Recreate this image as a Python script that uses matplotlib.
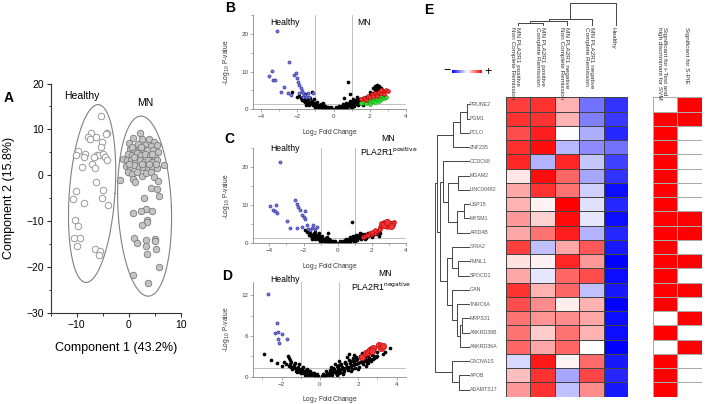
import numpy as np
import matplotlib
matplotlib.use('Agg')
import matplotlib.pyplot as plt
from matplotlib.ticker import MultipleLocator
from matplotlib.colors import ListedColormap, Normalize
from matplotlib.cm import ScalarMappable

plt.rcParams['font.family'] = ['Liberation Sans', 'DejaVu Sans']

# ---------------- Panel A data (PCA) ----------------
healthy_x = [-5.3, -7.2, -7.9, -7.5, -6.3, -5.2, -4.1, -4.3, -9.7, -10.1, -8.5, -8.7, -6.1, -5.8,
             -5.4, -4.9, -4.6, -4.2, -6.6, -7.1, -6.5, -9.0, -6.3, -10.2, -10.8, -5.0, -5.2, -8.7,
             -4.0, -10.3, -9.8, -10.5, -9.4, -10.0, -6.5, -5.6, -5.7]
healthy_y = [12.9, 9.3, 8.4, 8.0, 8.4, 7.3, 9.1, 8.9, 5.2, 4.4, 4.7, 3.9, 4.4, 4.5,
             6.2, 4.7, 4.0, 3.4, 3.9, 2.5, 1.6, 1.8, -1.5, -3.4, -5.2, -3.3, -4.9, -6.0,
             -6.4, -9.7, -11.1, -13.6, -13.6, -15.4, -16.0, -16.6, -17.5]
mn_x = [2.1, 0.8, 2.6, 3.9, 4.8, 5.5, 0.0, 1.7, 3.1, 4.2, 0.2, 1.0, 1.9, 2.8, 3.5, 4.7, 5.6,
        -0.2, 0.6, 1.5, 2.3, 3.2, 4.1, 5.0, -1.1, -0.3, 0.5, 1.3, 2.1, 2.9, 3.7, 4.5, 5.5, 6.8,
        -0.5, 0.3, 1.1, 1.9, 2.8, 3.7, 4.5, 5.4, -0.1, 0.6, 1.6, 2.6, 3.4, 4.2, 4.8, -1.6, 0.8,
        1.2, 5.6, 4.2, 5.5, 5.8, 3.0, 3.4, 2.3, 0.8, 4.5, 3.5, 3.5, 2.6, 1.1, 1.5, 3.4, 3.4,
        5.0, 5.0, 5.2, 3.5, 5.9, 0.8, 3.7, 0.6, 2.3, 4.5, 3.9, 5.2, 1.0, 2.6, 0.0]
mn_y = [9.3, 8.1, 7.8, 8.0, 7.3, 6.5, 7.1, 6.8, 6.5, 6.3, 5.8, 5.5, 5.6, 5.8, 5.5, 5.5, 5.1,
        4.7, 4.5, 4.9, 4.4, 4.6, 4.1, 4.0, 3.6, 3.3, 3.4, 3.1, 3.3, 2.8, 3.3, 2.9, 3.3, 2.3,
        2.0, 1.7, 2.2, 1.5, 1.8, 1.3, 1.8, 1.5, 0.7, 0.2, 0.7, -0.2, 0.4, 0.7, -0.4, -1.1, -0.9,
        -1.5, -1.2, -2.9, -3.1, -4.5, -4.9, -7.4, -7.9, -8.2, -7.9, -9.7, -10.3, -10.9, -13.8,
        -14.9, -14.2, -15.4, -14.0, -14.4, -16.1, -17.1, -20.0, -21.7, -23.6, 6.2, 6.2, 4.7,
        2.5, 2.5, 4.0, 2.4, 2.5]
# ellipse parameters: centre x, centre y, half-width, half-height, shear
healthy_ell = (-7.05, -4.0, 4.4, 19.4, 1.15)
mn_ell = (3.05, -6.75, 5.15, 19.65, -0.7)
labelA = ['Healthy', 'MN']

# ---------------- Panel B data ----------------
B_black_x = [-0.1, -0.2, -0.3, -0.4, -0.5, -0.6, -0.7, -0.8, -0.9, -1.0, -1.0, -1.1, -1.2, -1.2, -1.3,
             -1.4, -1.4, -1.5, -1.6, -1.7, -1.8, -1.9, -1.3, -1.1, -0.9, -0.7, -0.5, -0.3, -2.0, -1.6,
             -1.2, -2.3, -0.6, -0.8, -1.0, -1.5, -0.4,
             -0.15, -0.25, -0.35, -0.45, -0.55, -0.65, -0.75, -0.85, -0.95, -1.05, -1.15, -1.25,
             -1.35, -1.45, -1.55, -1.65, -1.75,
             0.1, 0.2, 0.3, 0.4, 0.5, 0.6, 0.7, 0.8, 0.9, 1.0, 1.0, 1.1, 1.2, 1.2, 1.3, 1.4, 1.4,
             1.5, 1.6, 1.7, 1.8, 1.9, 2.0, 2.1, 2.2, 2.3, 2.4, 2.5, 2.4, 2.5, 2.6, 2.3, 2.2, 0.8,
             0.5, 0.3, 0.7, 0.9, 1.1, 1.3, 0.6, 0.9, 2.7, 2.0, 0.6, 1.0, 1.6, 2.35, 2.45,
             0.15, 0.25, 0.35, 0.45, 0.55, 0.65, 0.75, 0.85, 0.95, 1.05, 1.15, 1.25, 1.35, 1.45,
             1.55, 1.65, 1.75, 1.85, 1.95, 2.05, 2.15, 2.25, 2.35, 2.45, 2.55, 2.5, 2.4, 2.3]
B_black_y = [0.1, 0.3, 0.2, 0.6, 0.4, 0.9, 0.6, 1.2, 0.8, 1.5, 1.0, 1.8, 1.3, 2.2, 1.6,
             2.0, 2.6, 2.3, 2.8, 3.3, 2.9, 3.6, 3.1, 2.6, 1.9, 1.4, 1.0, 0.6, 3.2, 4.1,
             4.6, 4.5, 1.6, 0.6, 0.5, 1.2, 0.2,
             0.5, 0.1, 0.4, 0.8, 0.2, 0.4, 1.0, 0.5, 1.3, 0.7, 1.1, 1.9,
             1.2, 1.6, 1.9, 2.3, 2.5,
             0.1, 0.3, 0.2, 0.6, 0.4, 0.9, 0.6, 1.2, 0.8, 1.5, 1.0, 1.8, 1.3, 2.2, 1.6, 2.0, 2.7,
             2.3, 3.0, 2.6, 3.3, 2.9, 3.7, 3.2, 4.2, 3.8, 4.8, 5.3, 5.8, 6.3, 5.6, 5.2, 5.6, 7.3,
             1.3, 0.8, 1.8, 2.3, 2.8, 3.3, 3.0, 4.0, 4.9, 4.6, 0.4, 0.6, 1.1, 6.0, 5.0,
             0.5, 0.1, 0.4, 0.9, 0.2, 1.2, 0.4, 1.6, 0.5, 2.1, 0.9, 2.5, 1.1, 1.6,
             1.9, 1.4, 2.1, 2.5, 3.3, 2.6, 3.5, 3.0, 4.3, 3.6, 4.8, 5.8, 6.5, 6.1]
B_blue_x = [-3.13, -3.39, -3.54, -3.35, -3.23, -2.47, -2.06, -2.16, -2.03, -1.94, -1.88, -2.71, -2.89,
            -2.52, -2.34, -1.79, -1.73, -1.66, -1.55, -1.42, -1.33, -1.51, -1.14, -1.70, -1.88]
B_blue_y = [20.8, 10.2, 8.8, 7.8, 7.8, 12.6, 9.7, 9.1, 8.2, 7.3, 6.4, 5.8, 4.7,
            4.4, 3.8, 5.6, 4.9, 4.2, 3.8, 4.4, 3.3, 3.2, 4.4, 3.3, 4.2]
B_green_x = [1.6, 1.7, 1.8, 1.9, 2.0, 2.1, 2.2, 2.3, 2.4, 2.5, 2.6, 2.7, 2.8, 2.0, 2.3, 2.5, 1.8,
             2.2, 2.6, 1.5, 2.9]
B_green_y = [1.8, 2.2, 1.6, 2.5, 2.0, 2.8, 2.3, 3.0, 2.6, 3.2, 2.8, 3.5, 3.1, 1.5, 1.9, 2.2, 2.8,
             3.3, 3.9, 1.6, 3.3]
B_red_x = [1.7, 1.9, 2.0, 2.1, 2.2, 2.3, 2.4, 2.5, 2.6, 2.7, 2.8, 2.9, 3.0, 2.6, 2.4, 2.8, 1.8, 1.5]
B_red_y = [3.0, 3.5, 3.2, 4.0, 3.6, 4.4, 4.0, 4.6, 4.2, 5.0, 4.6, 5.2, 4.9, 5.2, 3.5, 4.0, 2.4, 2.6]

# ---------------- Panel C data ----------------
C_black_x = [-0.1, -0.2, -0.3, -0.4, -0.5, -0.6, -0.7, -0.8, -0.9, -1.0, -1.0, -1.1, -1.2, -1.2, -1.3,
             -1.4, -1.4, -1.5, -1.6, -1.7, -1.8, -1.3, -1.1, -0.9, -0.7, -0.5, -0.3, -0.58, -1.9,
             -0.6, -0.8, -1.0, -1.5, -0.4,
             -0.15, -0.25, -0.35, -0.45, -0.55, -0.65, -0.75, -0.85, -0.95, -1.05, -1.15, -1.25,
             -1.35, -1.45, -1.55, -1.65,
             0.1, 0.2, 0.3, 0.4, 0.5, 0.6, 0.7, 0.8, 0.9, 1.0, 1.0, 1.1, 1.2, 1.2, 1.3, 1.4, 1.4,
             1.5, 1.6, 1.7, 1.8, 1.9, 2.0, 2.1, 2.2, 2.3, 2.4, 0.82, 0.5, 0.3, 0.7, 0.9, 1.1, 1.3,
             0.6, 1.0, 1.6, 2.0, 2.4,
             0.15, 0.25, 0.35, 0.45, 0.55, 0.65, 0.75, 0.85, 0.95, 1.05, 1.15, 1.25, 1.35, 1.45,
             1.55, 1.65, 1.75, 1.85, 1.95, 2.05, 2.15, 2.25, 2.35, 2.5]
C_black_y = [0.1, 0.3, 0.2, 0.6, 0.4, 0.9, 0.6, 1.2, 0.8, 1.5, 1.0, 1.8, 1.3, 2.2, 1.6,
             2.0, 2.6, 2.3, 2.8, 3.3, 2.9, 3.1, 2.6, 1.9, 1.4, 1.0, 0.6, 2.6, 3.5,
             1.6, 0.6, 0.5, 1.2, 0.2,
             0.5, 0.1, 0.4, 0.8, 0.2, 0.4, 1.0, 0.5, 1.3, 0.7, 1.1, 1.9,
             1.2, 1.6, 1.9, 2.3,
             0.1, 0.3, 0.2, 0.6, 0.4, 0.9, 0.6, 1.2, 0.8, 1.5, 1.0, 1.8, 1.3, 2.0, 1.6, 2.0, 2.4,
             2.1, 2.4, 2.2, 2.6, 2.4, 2.8, 2.6, 3.0, 2.9, 3.2, 5.5, 1.2, 0.7, 1.6, 1.9, 2.3, 2.6,
             0.4, 0.5, 1.2, 1.6, 2.0,
             0.5, 0.1, 0.4, 0.9, 0.2, 1.2, 0.4, 1.5, 0.5, 1.9, 0.8, 2.2, 1.0, 1.5,
             1.7, 1.3, 1.9, 2.1, 2.7, 2.2, 2.8, 2.5, 3.0, 2.7]
C_blue_x = [-3.38, -3.96, -3.61, -3.77, -3.67, -3.53, -2.99, -2.79, -2.50, -2.40, -2.34, -2.20, -2.11,
            -1.97, -1.89, -2.36, -2.11, -1.81, -1.72, -1.52, -1.42, -1.33, -1.62, -1.23, -1.91]
C_blue_y = [21.5, 9.7, 10.1, 8.8, 8.4, 7.9, 6.0, 4.1, 11.5, 10.4, 9.5, 8.8, 7.5,
            6.9, 6.3, 4.0, 4.2, 4.8, 3.7, 4.0, 4.8, 3.8, 3.5, 4.2, 8.4]
C_red_x = [1.5, 1.6, 1.7, 1.8, 1.9, 2.0, 2.1, 2.2, 2.3, 2.4, 2.5, 2.6, 2.6, 2.7, 2.8, 2.9, 3.0,
           3.1, 3.2, 3.3, 2.5, 2.2, 2.0, 2.7, 3.0]
C_red_y = [1.7, 2.0, 2.3, 2.1, 2.6, 2.4, 3.0, 2.8, 3.3, 3.6, 4.2, 4.8, 5.3, 4.6, 5.0, 4.3, 4.7,
           5.0, 5.3, 5.6, 3.7, 3.4, 2.9, 5.6, 5.4]
C_redbig_x = [2.6, 2.7, 3.2, 3.1, 2.9]
C_redbig_y = [5.0, 4.7, 5.1, 4.6, 5.5]

# ---------------- Panel D data ----------------
D_black_x = [-0.1, -0.2, -0.3, -0.4, -0.5, -0.6, -0.7, -0.8, -0.9, -1.0, -1.0, -1.1, -1.2, -1.3,
             -1.4, -1.5, -1.6, -0.3, -0.5, -0.7, -0.9, -1.1, -1.3, -1.5, -2.9, -2.56, -2.22, -1.9,
             -1.65, -1.6, -1.55, -1.75, -2.0, -1.2, -0.8,
             -0.15, -0.25, -0.35, -0.45, -0.55, -0.65, -0.75, -0.85, -0.95, -1.05, -1.15, -1.25,
             -1.35, -1.45, -1.55,
             0.1, 0.2, 0.3, 0.4, 0.5, 0.6, 0.7, 0.8, 0.9, 1.0, 1.0, 1.1, 1.2, 1.3, 1.4, 1.5, 1.6,
             1.7, 1.8, 1.9, 2.0, 2.1, 2.2, 2.3, 2.4, 2.5, 2.6, 2.8, 3.0, 3.3, 3.65, 0.5, 0.7,
             0.9, 1.1, 1.3, 1.5, 1.7, 1.9, 2.1, 2.3, 2.5, 2.7, 1.2, 1.6, 2.0, 2.4, 0.8, 1.0,
             1.4, 1.8, 2.2, 2.6, 3.0, 3.4, 1.5, 0.3,
             0.15, 0.25, 0.35, 0.45, 0.55, 0.65, 0.75, 0.85, 0.95, 1.05, 1.15, 1.25, 1.35, 1.45,
             1.55, 1.65, 1.75, 1.85, 1.95, 2.05, 2.15, 2.25, 2.35, 2.45, 2.55, 2.65, 2.75, 2.9,
             1.0, 1.3, 1.6, 1.9, 2.2, 2.5, 2.8, 0.6, 0.9, 1.2]
D_black_y = [0.1, 0.2, 0.3, 0.4, 0.5, 0.6, 0.7, 0.8, 0.9, 1.0, 0.5, 1.1, 1.2, 1.3,
             1.4, 1.5, 1.6, 0.6, 0.9, 1.2, 1.5, 1.8, 2.0, 2.2, 3.3, 2.4, 2.0, 2.2,
             3.1, 2.8, 2.4, 1.9, 1.6, 0.7, 0.3,
             0.4, 0.1, 0.5, 0.2, 0.8, 0.3, 1.0, 0.5, 1.2, 0.7, 1.4, 0.9,
             1.7, 1.1, 1.9,
             0.1, 0.2, 0.3, 0.4, 0.5, 0.6, 0.7, 0.8, 0.9, 1.0, 0.5, 1.1, 1.2, 1.3, 1.4, 1.5, 1.6,
             1.7, 1.8, 1.9, 2.0, 2.1, 2.2, 2.3, 2.4, 2.5, 2.6, 2.8, 3.0, 3.3, 4.3, 1.0, 1.3,
             1.6, 1.9, 2.2, 2.5, 2.7, 2.9, 3.1, 3.3, 3.1, 3.2, 0.6, 0.9, 1.2, 1.6, 1.8, 2.3,
             2.9, 3.2, 3.5, 3.6, 3.7, 3.6, 3.4, 0.9,
             0.4, 0.1, 0.6, 0.2, 0.8, 0.3, 1.1, 0.5, 1.3, 0.7, 1.5, 0.8, 1.8, 1.0,
             2.0, 1.1, 2.3, 1.3, 2.6, 1.5, 2.8, 1.8, 2.9, 2.0, 2.8, 2.3, 2.6, 2.9,
             1.7, 2.0, 2.3, 2.4, 2.6, 2.0, 3.1, 1.5, 0.3, 0.4]
D_blue_x = [-2.73, -2.26, -2.35, -2.17, -2.0, -2.2, -1.74, -2.12]
D_blue_y = [12.2, 7.9, 6.5, 6.6, 6.3, 5.5, 5.6, 5.0]
D_red_x = [2.17, 2.38, 2.5, 2.6, 2.7, 2.78, 2.72, 3.1, 3.2, 3.27]
D_red_y = [2.9, 3.5, 3.7, 3.9, 4.1, 4.3, 3.8, 4.6, 4.3, 4.5]

# ---------------- Panel E data ----------------
genes = ['PRUNE2', 'PGM1', 'PCLO', 'ZNF235', 'CCDC68', 'MGAM2', 'LINC00482', 'USP15', 'MYSM1',
         'ARID4B', 'GRIA2', 'FMNL1', 'SPOCD1', 'GAN', 'TNRC6A', 'MRPS31', 'ANKRD36B', 'ANKRD36A',
         'CACNA1S', 'APOB', 'ADAMTS17']
groups = ['MN PLA2R1 positive\nNon Complete Remission', 'MN PLA2R1 positive\nComplete Remission',
          'MN PLA2R1 negative\nNon Complete Remission', 'MN PLA2R1 negative\nComplete Remission',
          'Healthy']
expr = [
    [0.75, 0.80, 0.30, -0.55, -0.80],
    [0.80, 0.80, 0.30, -0.50, -0.78],
    [0.70, 0.88, 0.00, -0.32, -0.85],
    [0.82, 0.95, -0.28, -0.45, -0.55],
    [0.85, -0.30, 0.85, -0.22, -0.75],
    [0.10, 0.95, 0.60, -0.35, -0.80],
    [0.35, 0.80, 0.55, -0.18, -0.95],
    [0.30, 0.05, 1.00, -0.12, -0.85],
    [0.40, 0.18, 0.95, -0.10, -0.95],
    [0.35, 0.55, 0.88, -0.30, -0.85],
    [0.75, -0.25, 0.35, 0.65, -0.90],
    [0.12, 0.05, 0.85, 0.40, -1.00],
    [0.35, -0.10, 0.60, 0.70, -0.95],
    [0.80, 0.30, 0.60, -0.25, -0.90],
    [0.70, 0.45, 0.07, 0.30, -1.00],
    [0.55, 0.42, 0.45, 0.35, -0.95],
    [0.55, 0.20, 0.55, 0.30, -0.95],
    [0.60, 0.35, 0.60, 0.00, -1.00],
    [-0.15, 0.90, 0.05, 0.58, -0.90],
    [0.25, 0.80, -0.35, 0.72, -0.85],
    [0.40, 0.80, -0.25, 0.45, -0.90],
]
sig_labels = ['Significant for t-Test and\nhigh discriminant for SVM', 'Significant for S-PIE']
sig_ttest = [0, 1, 1, 1, 1, 1, 1, 1, 1, 1, 1, 1, 1, 1, 1, 0, 1, 0, 1, 1, 1]
sig_spie = [1, 1, 0, 0, 0, 0, 0, 0, 1, 1, 0, 1, 0, 1, 0, 1, 0, 1, 0, 0, 0]

t_top = ((('PRUNE2', 'PGM1', 2.5), 'PCLO', 9.0), 'ZNF235', 15.7)
t_mid = ('CCDC68', (('MGAM2', 'LINC00482', 10.7), (('USP15', 'MYSM1', 4.7), 'ARID4B', 11.7), 20.7), 25.7)
t_grp = (('GRIA2', ('FMNL1', 'SPOCD1', 10.7), 17.3),
         ('GAN', ('TNRC6A', (('MRPS31', 'ANKRD36B', 7.3), 'ANKRD36A', 9.3), 11.7), 17.3), 22.3)
t_bot = ('CACNA1S', ('APOB', 'ADAMTS17', 10.0), 16.7)
row_tree = ((t_top, (t_mid, t_grp, 29.0), 32.3), t_bot, 34.0)
col_tree = (((('c0', 'c1', 2.3), 'c2', 4.3), 'c3', 5.7), 'c4', 21.7)

# ---------------- figure ----------------
W, H = 708, 404
fig = plt.figure(figsize=(W / 100, H / 100), dpi=100)


def ax_px(l, t, r, b):
    return fig.add_axes([l / W, 1 - b / H, (r - l) / W, (b - t) / H])


def letter(x, y, s):
    fig.text(x / W, 1 - y / H, s, fontsize=10, fontweight='bold', ha='left', va='center')


# ---- A ----
axA = ax_px(50.8, 83.5, 180.7, 312.7)
axA.set_xlim(-15, 10)
axA.set_ylim(-30, 20)
t = np.linspace(0, 2 * np.pi, 200)
for (cx, cy, a, b, s) in [healthy_ell, mn_ell]:
    axA.plot(cx + a * np.cos(t) + s * np.sin(t), cy + b * np.sin(t), color='#808080', lw=0.8)
axA.scatter(healthy_x, healthy_y, s=22, facecolor='white', edgecolor='#999999', linewidth=0.7, zorder=3)
axA.scatter(mn_x, mn_y, s=22, facecolor='#c4c4c4', edgecolor='#7a7a7a', linewidth=0.6, zorder=3)
axA.text(-9.1, 17.3, labelA[0], fontsize=7.5, ha='center', va='center')
axA.text(3.1, 15.8, labelA[1], fontsize=7.5, ha='center', va='center')
for sp in ['top', 'right']:
    axA.spines[sp].set_visible(False)
for sp in ['left', 'bottom']:
    axA.spines[sp].set_linewidth(0.8)
    axA.spines[sp].set_color('#333333')
axA.xaxis.set_major_locator(MultipleLocator(10))
axA.xaxis.set_minor_locator(MultipleLocator(5))
axA.yaxis.set_major_locator(MultipleLocator(10))
axA.yaxis.set_minor_locator(MultipleLocator(5))
axA.tick_params(which='major', labelsize=7.5, length=3, width=0.8, pad=2, color='#333333')
axA.tick_params(which='minor', length=1.8, width=0.7, color='#333333')
axA.set_xlabel('Component 1 (43.2%)', fontsize=9)
axA.set_ylabel('Component 2 (15.8%)', fontsize=9)
axA.xaxis.set_label_coords(0.5, -0.13)
axA.yaxis.set_label_coords(-0.275, 0.5)
letter(4, 98, 'A')


# ---- volcano plots ----
def volcano(rect, xlim, ylim, ymaj, black, blue, red, redbig=None, green=None):
    ax = ax_px(*rect)
    ax.set_xlim(*xlim)
    ax.set_ylim(*ylim)
    ax.axvline(-1, color='#b5b5b5', lw=0.6, zorder=1)
    ax.axvline(1, color='#b5b5b5', lw=0.6, zorder=1)
    ax.axhline(1.3, color='#b5b5b5', lw=0.6, zorder=1)
    ax.scatter(black[0], black[1], s=7, c='black', linewidths=0, zorder=2)
    ax.scatter(blue[0], blue[1], s=5, facecolor='#7a7ad8', edgecolor='#2a2aa0', linewidths=0.45, zorder=3)
    if green is not None:
        ax.scatter(green[0], green[1], s=8, facecolor='#33dd33', edgecolor='#119911', linewidths=0.4, zorder=3)
    ax.scatter(red[0], red[1], s=8, facecolor='#ee3333', edgecolor='#bb0000', linewidths=0.4, zorder=4)
    if redbig is not None:
        ax.scatter(redbig[0], redbig[1], s=22, facecolor='#ee3333', edgecolor='#bb0000', linewidths=0.4, zorder=4)
    for sp in ['top', 'right']:
        ax.spines[sp].set_visible(False)
    for sp in ['left', 'bottom']:
        ax.spines[sp].set_color('#888888')
        ax.spines[sp].set_linewidth(0.6)
    ax.xaxis.set_major_locator(MultipleLocator(2))
    ax.xaxis.set_minor_locator(MultipleLocator(1))
    ax.yaxis.set_major_locator(MultipleLocator(ymaj))
    ax.yaxis.set_minor_locator(MultipleLocator(ymaj / 2))
    ax.tick_params(which='major', labelsize=4.5, length=2, width=0.5, color='#888888',
                   labelcolor='#444444', pad=1.5)
    ax.tick_params(which='minor', length=1.2, width=0.5, color='#888888')
    ax.set_xlabel(r'Log$_2$ Fold Change', fontsize=4.8, color='#333333')
    ax.set_ylabel(r'-Log$_{10}$ P-value', fontsize=4.8, color='#333333')
    ax.xaxis.set_label_coords(0.5, -0.185)
    ax.yaxis.set_label_coords(-0.14, 0.5)
    return ax


axB = volcano((253.3, 15, 406, 109.3), (-4.43, 4.0), (0, 25), 10,
              (B_black_x, B_black_y), (B_blue_x, B_blue_y), (B_red_x, B_red_y),
              green=(B_green_x, B_green_y))
axB.text(-2.7, 23, 'Healthy', fontsize=6.2, ha='center', va='center')
axB.text(1.68, 23, 'MN', fontsize=6.2, ha='center', va='center')
letter(225, 8, 'B')

axC = volcano((253.3, 148.3, 406, 243.3), (-4.94, 4.0), (0, 25), 10,
              (C_black_x, C_black_y), (C_blue_x, C_blue_y), (C_red_x, C_red_y),
              redbig=(C_redbig_x, C_redbig_y))
axC.text(-3.08, 24.9, 'Healthy', fontsize=6.2, ha='center', va='center')
axC.text(2.95, 27.6, 'MN', fontsize=6.2, ha='center', va='center')
axC.text(3.0, 24.0, r'PLA2R1$^{\mathrm{positive}}$', fontsize=6.2, ha='center', va='center')
letter(224, 139, 'C')

axD = volcano((253.3, 281.7, 406, 376.7), (-3.48, 4.49), (0, 14), 6,
              (D_black_x, D_black_y), (D_blue_x, D_blue_y), ([], []),
              redbig=(D_red_x, D_red_y))
axD.text(-1.83, 14.3, 'Healthy', fontsize=6.2, ha='center', va='center')
axD.text(3.4, 15.2, 'MN', fontsize=6.2, ha='center', va='center')
axD.text(3.2, 13.3, r'PLA2R1$^{\mathrm{negative}}$', fontsize=6.2, ha='center', va='center')
letter(222, 276, 'D')

# ---- E heatmap ----
nr, nc = len(genes), len(groups)
top_px, bot_px = 97.3, 396.7
axH = ax_px(506, top_px, 628.3, bot_px)
axH.pcolormesh(np.array(expr), cmap='bwr', vmin=-1, vmax=1, edgecolors='#444444', linewidth=0.5)
axH.set_xlim(0, nc)
axH.set_ylim(nr, 0)
axH.axis('off')

axS = ax_px(652.7, top_px, 701.7, bot_px)
sig = np.array([sig_ttest, sig_spie]).T
axS.pcolormesh(sig, cmap=ListedColormap(['white', '#ff0000']), vmin=0, vmax=1,
               edgecolors='#aaaaaa', linewidth=0.6)
axS.set_xlim(0, 2)
axS.set_ylim(nr, 0)
axS.axis('off')


def draw_tree(ax, node, pos, horizontal):
    if isinstance(node, str):
        return pos[node], 0.0
    a, b, h = node
    pa, ha = draw_tree(ax, a, pos, horizontal)
    pb, hb = draw_tree(ax, b, pos, horizontal)
    if horizontal:
        ax.plot([ha, h, h, hb], [pa, pa, pb, pb], color='#444444', lw=0.7, clip_on=False)
    else:
        ax.plot([pa, pa, pb, pb], [ha, h, h, hb], color='#444444', lw=0.7, clip_on=False)
    return (pa + pb) / 2, h


axR = ax_px(435, top_px, 469, bot_px)
draw_tree(axR, row_tree, {g: i + 0.5 for i, g in enumerate(genes)}, True)
axR.set_xlim(34, 0)
axR.set_ylim(nr, 0)
axR.axis('off')
for i, g in enumerate(genes):
    y = top_px + (bot_px - top_px) * (i + 0.5) / nr
    fig.text(470 / W, 1 - y / H, g, fontsize=3.8, color='#555555', ha='left', va='center')

axT = ax_px(506, 3.3, 628.3, 25)
draw_tree(axT, col_tree, {'c%d' % j: j + 0.5 for j in range(nc)}, False)
axT.set_xlim(0, nc)
axT.set_ylim(0, 21.7)
axT.axis('off')

cw = (628.3 - 506) / nc
for j, g in enumerate(groups):
    x = 506 + cw * (j + 0.5) - 3
    fig.text(x / W, 1 - 27 / H, g, fontsize=4.6, rotation=270, ha='center', va='top',
             multialignment='left', linespacing=0.95, color='#333333')
sw = (701.7 - 652.7) / 2
for j, g in enumerate(sig_labels):
    x = 652.7 + sw * (j + 0.5) - 3
    fig.text(x / W, 1 - 27 / H, g, fontsize=4.6, rotation=270, ha='center', va='top',
             multialignment='left', linespacing=0.95, color='#333333')

cax = ax_px(452, 69.5, 482, 73)
cb = fig.colorbar(ScalarMappable(norm=Normalize(-1, 1), cmap='bwr'), cax=cax, orientation='horizontal')
cb.set_ticks([])
cb.outline.set_visible(False)
fig.text(447 / W, 1 - 71 / H, '\u2212', fontsize=9, ha='center', va='center')
fig.text(488 / W, 1 - 71.5 / H, '+', fontsize=9, ha='center', va='center')
letter(424, 10, 'E')

fig.savefig('out.png', dpi=100)
